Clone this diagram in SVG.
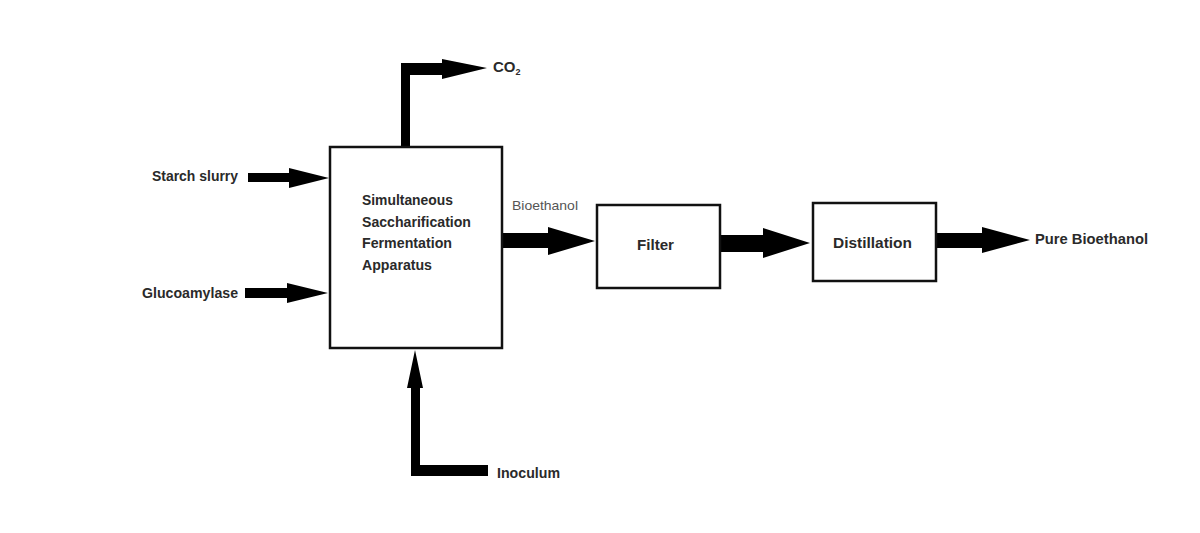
<svg xmlns="http://www.w3.org/2000/svg" width="1200" height="533" viewBox="0 0 1200 533">
<style>
.box{fill:#fff;stroke:#111;stroke-width:2.5}
.arr{fill:#000}
.t{font-family:"Liberation Sans",Arial,sans-serif;font-weight:bold;font-size:15px;fill:#2a2a2a}
.r{font-family:"Liberation Sans",Arial,sans-serif;font-weight:normal;font-size:13.5px;fill:#555}
</style>
<rect width="1200" height="533" fill="#fff"/>
<g id="connectors">
<polygon class="arr" points="401,147 401,63 442,63 442,59 487,68 442,79 442,75 410,75 410,147"/>
<polygon class="arr" points="248,173 289,173 289,168 329,178 289,188 289,182 248,182"/>
<polygon class="arr" points="245,288 287,288 287,283 328,293 287,303 287,298 245,298"/>
<polygon class="arr" points="411,476 488,476 488,465 420,465 420,388 423,388 415,350 407,388 411,388"/>
<polygon class="arr" points="502,233 548,233 548,227 595,241 548,255 548,248 502,248"/>
<polygon class="arr" points="720,235 763,235 763,228 810,243 763,258 763,252 720,252"/>
<polygon class="arr" points="936,233 982,233 982,227 1030,240 982,253 982,248 936,248"/>
</g>
<g id="ssf">
<rect class="box" x="330" y="147" width="172" height="201"/>
<text class="t" x="362" y="205" textLength="91" lengthAdjust="spacingAndGlyphs">Simultaneous</text>
<text class="t" x="362" y="227" textLength="109" lengthAdjust="spacingAndGlyphs">Saccharification</text>
<text class="t" x="362" y="248" textLength="90" lengthAdjust="spacingAndGlyphs">Fermentation</text>
<text class="t" x="362" y="270" textLength="70" lengthAdjust="spacingAndGlyphs">Apparatus</text>
</g>
<g id="filter">
<rect class="box" x="597" y="205" width="123" height="83"/>
<text class="t" x="637" y="250" textLength="37" lengthAdjust="spacingAndGlyphs">Filter</text>
</g>
<g id="distillation">
<rect class="box" x="813" y="203" width="123" height="78"/>
<text class="t" x="833" y="248" textLength="79" lengthAdjust="spacingAndGlyphs">Distillation</text>
</g>
<g id="labels">
<text class="t" x="152" y="181" textLength="86" lengthAdjust="spacingAndGlyphs">Starch slurry</text>
<text class="t" x="142" y="298" textLength="96" lengthAdjust="spacingAndGlyphs">Glucoamylase</text>
<text class="t" x="493" y="72">CO<tspan dy="3" style="font-size:9px">2</tspan></text>
<text class="r" x="512" y="210" textLength="66" lengthAdjust="spacingAndGlyphs">Bioethanol</text>
<text class="t" x="497" y="478" textLength="63" lengthAdjust="spacingAndGlyphs">Inoculum</text>
<text class="t" x="1035" y="244" textLength="113" lengthAdjust="spacingAndGlyphs">Pure Bioethanol</text>
</g>
</svg>
